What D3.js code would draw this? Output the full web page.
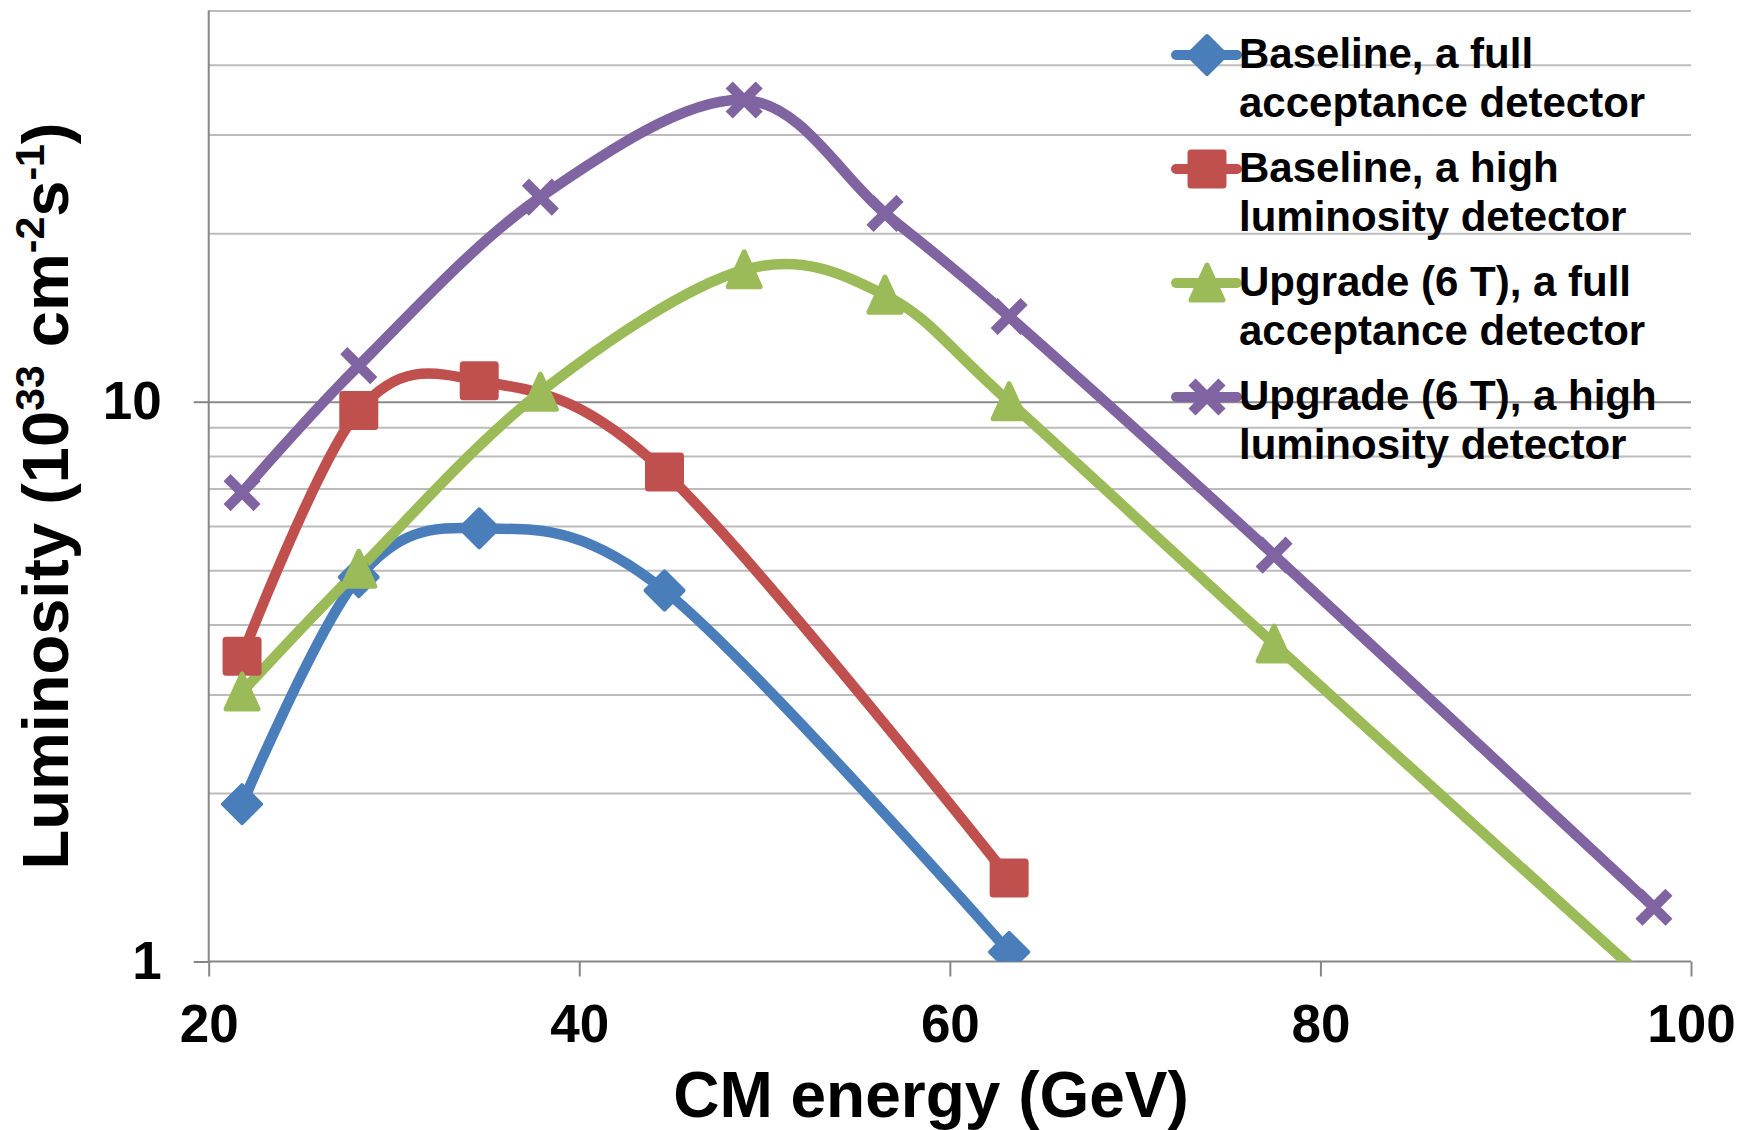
<!DOCTYPE html>
<html>
<head>
<meta charset="utf-8">
<script src="https://cdn.jsdelivr.net/npm/d3@7"></script>
<style>
  body { margin: 0; background: #fff; }
  svg { display: block; font-family: "Liberation Sans", Arial, sans-serif; font-weight: bold; }
</style>
</head>
<body>
<main></main>
<script>
// data
const energyBaseline = [21.8, 28.1, 34.6, 44.6, 63.2]
const baselineFull = [1.91, 4.86, 5.94, 4.6, 1.04]
const baselineHigh = [3.51, 9.64, 10.9, 7.49, 1.41]
const energyUpgrade = [21.8, 28.1, 37.9, 48.9, 56.5, 63.2, 77.5, 98.0]
const upgradeFull = [3.03, 5.02, 10.4, 17.2, 15.5, 10.0, 3.69, 0.9]
const upgradeHigh = [6.88, 11.6, 23.2, 34.6, 21.7, 14.2, 5.32, 1.25]
const seriesNames = [
  ['Baseline, a full', 'acceptance detector'],
  ['Baseline, a high', 'luminosity detector'],
  ['Upgrade (6 T), a full', 'acceptance detector'],
  ['Upgrade (6 T), a high', 'luminosity detector']
]
const xTicks = [20, 40, 60, 80, 100]
const yTicks = [1, 10]
const yMinor = [2, 3, 4, 5, 6, 7, 8, 9, 20, 30, 40, 50]

const W = 1741
const H = 1130
const colors = ['#4a7ebb', '#c0504d', '#9bbb59', '#8064a2']
const shapes = ['diamond', 'square', 'triangle', 'cross']

const series = [
  { xs: energyBaseline, ys: baselineFull },
  { xs: energyBaseline, ys: baselineHigh },
  { xs: energyUpgrade, ys: upgradeFull },
  { xs: energyUpgrade, ys: upgradeHigh }
].map((s, i) => ({
  name: seriesNames[i],
  color: colors[i],
  shape: shapes[i],
  points: s.xs.map((x, j) => ({ x: x, y: s.ys[j] }))
}))

const x = d3.scaleLinear().domain([20, 100]).range([208.7, 1691])
const y = d3.scaleLog().domain([1, 50]).range([961.5, 961.5 - Math.log10(50) * 559.8])

const svg = d3.select('main')
  .append('svg')
  .attr('width', W)
  .attr('height', H)
  .attr('viewBox', '0,0,' + W + ',' + H)

// clip to plot area
svg.append('clipPath')
  .attr('id', 'plot')
  .append('rect')
  .attr('x', x.range()[0] - 30)
  .attr('y', y.range()[1] - 30)
  .attr('width', x.range()[1] - x.range()[0] + 60)
  .attr('height', y.range()[0] - y.range()[1] + 30)

// minor gridlines
svg.append('g')
  .attr('transform', 'translate(' + x.range()[0] + ',0)')
  .call(d3.axisLeft(y).tickValues(yMinor).tickSize(-(x.range()[1] - x.range()[0])).tickFormat(''))
  .call(g => g.select('.domain').remove())
  .selectAll('line')
  .style('stroke', '#bcbcbc')
  .style('stroke-width', '2px')

// y axis with major gridline at 10
const yAxis = svg.append('g')
  .attr('transform', 'translate(' + x.range()[0] + ',0)')
  .call(d3.axisLeft(y).tickValues(yTicks).tickFormat(d3.format('d')).tickSize(15).tickPadding(32))
yAxis.select('.domain')
  .attr('d', 'M0,' + y.range()[1] + 'V' + y.range()[0])
  .style('stroke', '#868686')
  .style('stroke-width', '2px')
yAxis.selectAll('.tick line')
  .style('stroke', '#868686')
  .style('stroke-width', '2px')
yAxis.selectAll('.tick')
  .filter(d => d !== 1)
  .append('line')
  .attr('x2', x.range()[1] - x.range()[0])
  .style('stroke', '#8a8a8a')
  .style('stroke-width', '2px')
yAxis.selectAll('text')
  .style('font-size', '53px')
  .style('font-family', '"Liberation Sans", Arial, sans-serif')
  .style('font-weight', 'bold')
  .style('fill', '#000')

// x axis
const xAxis = svg.append('g')
  .attr('transform', 'translate(0,' + y.range()[0] + ')')
  .call(d3.axisBottom(x).tickValues(xTicks).tickSize(15).tickPadding(27.5))
xAxis.select('.domain')
  .attr('d', 'M' + x.range()[0] + ',0H' + x.range()[1])
  .style('stroke', '#868686')
  .style('stroke-width', '2px')
xAxis.selectAll('.tick line')
  .style('stroke', '#868686')
  .style('stroke-width', '2px')
xAxis.selectAll('text')
  .style('font-size', '53px')
  .style('font-family', '"Liberation Sans", Arial, sans-serif')
  .style('font-weight', 'bold')
  .style('fill', '#000')

// axis titles
svg.append('text')
  .attr('x', 931)
  .attr('y', 1117)
  .attr('text-anchor', 'middle')
  .style('font-size', '64px')
  .text('CM energy (GeV)')

const yTitle = svg.append('text')
  .attr('transform', 'translate(68,496) rotate(-90)')
  .attr('text-anchor', 'middle')
  .style('font-size', '65px')
yTitle.append('tspan').text('Luminosity (10')
yTitle.append('tspan').attr('dy', -24).style('font-size', '41px').text('33')
yTitle.append('tspan').attr('dy', 24).text(' cm')
yTitle.append('tspan').attr('dy', -24).style('font-size', '41px').text('-2')
yTitle.append('tspan').attr('dy', 24).text('s')
yTitle.append('tspan').attr('dy', -24).style('font-size', '41px').text('-1')
yTitle.append('tspan').attr('dy', 24).text(')')

// marker drawing
function drawMarker (g, shape, color) {
  if (shape === 'diamond') {
    g.append('path')
      .attr('d', 'M0,-19L19,0L0,19L-19,0Z')
      .style('fill', color)
      .style('stroke', color)
      .style('stroke-width', 4)
      .style('stroke-linejoin', 'round')
  } else if (shape === 'square') {
    g.append('path')
      .attr('d', 'M-16,-16H16V16H-16Z')
      .style('fill', color)
      .style('stroke', color)
      .style('stroke-width', 7)
      .style('stroke-linejoin', 'round')
  } else if (shape === 'triangle') {
    g.append('path')
      .attr('d', 'M0,-18L16,17H-16Z')
      .style('fill', color)
      .style('stroke', color)
      .style('stroke-width', 5)
      .style('stroke-linejoin', 'round')
  } else {
    g.append('path')
      .attr('d', 'M-15,-15L15,15M15,-15L-15,15')
      .style('fill', 'none')
      .style('stroke', color)
      .style('stroke-width', 10)
  }
}

const line = d3.line()
  .x(d => x(d.x))
  .y(d => y(d.y))
  .curve(d3.curveCardinal.tension(0))

const plot = svg.append('g').attr('clip-path', 'url(#plot)')

series.forEach(s => {
  plot.append('path')
    .datum(s.points)
    .attr('d', line)
    .style('fill', 'none')
    .style('stroke', s.color)
    .style('stroke-width', 10.5)
    .style('stroke-linejoin', 'round')
})

series.forEach(s => {
  plot.selectAll(null)
    .data(s.points.filter(d => d.y >= 1))
    .enter()
    .append('g')
    .attr('transform', d => 'translate(' + x(d.x) + ',' + y(d.y) + ')')
    .each(function () { drawMarker(d3.select(this), s.shape, s.color) })
})

// legend
const legendTop = [55, 169, 283, 397]
const legend = svg.append('g')
series.forEach((s, i) => {
  const item = legend.append('g').attr('transform', 'translate(1207,' + legendTop[i] + ')')
  item.append('line')
    .attr('x1', -31)
    .attr('x2', 30)
    .style('stroke', s.color)
    .style('stroke-width', 10)
    .style('stroke-linecap', 'round')
  drawMarker(item, s.shape, s.color)
  const t = legend.append('text')
    .attr('x', 1239)
    .attr('y', legendTop[i] + 13)
    .style('font-size', '42px')
  t.selectAll('tspan')
    .data(s.name)
    .enter()
    .append('tspan')
    .attr('x', 1239)
    .attr('dy', (d, j) => j === 0 ? 0 : 49)
    .text(d => d)
})
</script>
</body>
</html>
